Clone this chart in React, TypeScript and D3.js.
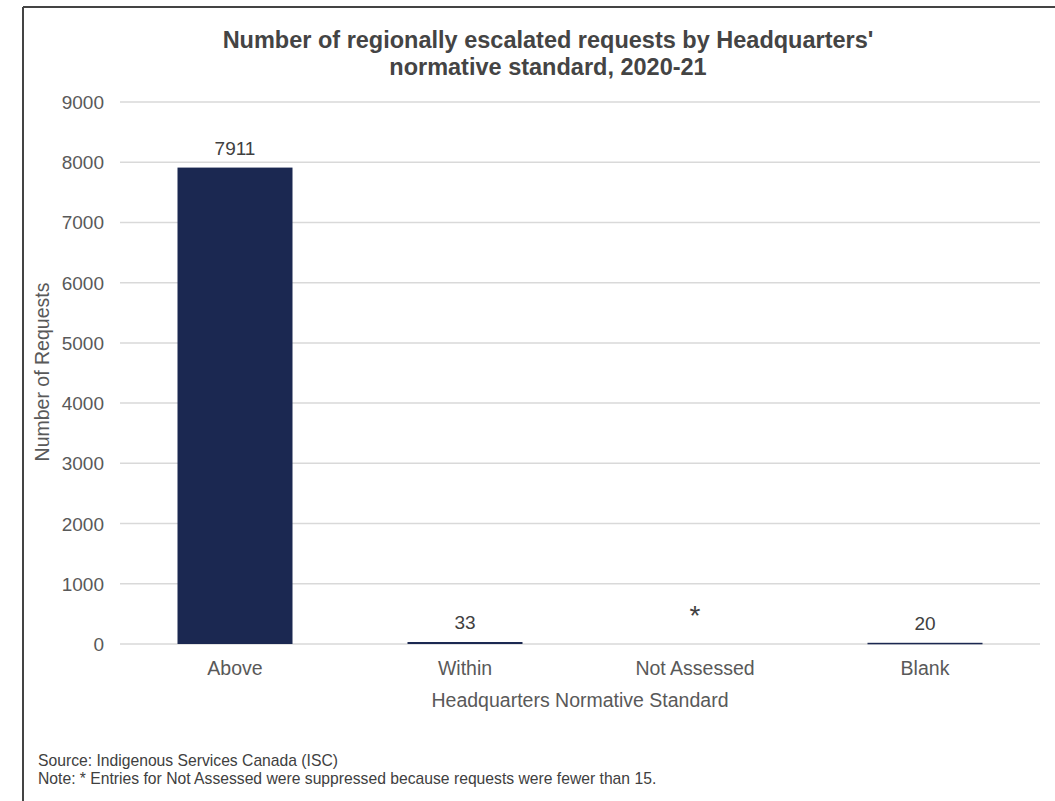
import React from "react";
import * as d3 from "d3";

const categories = ["Above", "Within", "Not Assessed", "Blank"];
const values: (number | null)[] = [7911, 33, null, 20];
const valueLabels = ["7911", "33", "*", "20"];
const yTicks = [0, 1000, 2000, 3000, 4000, 5000, 6000, 7000, 8000, 9000];

const W = 1055;
const H = 801;
const FONT = "'Liberation Sans', Arial, Helvetica, sans-serif";

export default function App() {
  const x = d3.scaleBand<string>().domain(categories).range([120, 1040]).paddingInner(0.5).paddingOuter(0.25);
  const y = d3.scaleLinear().domain([0, 9000]).range([644, 102]);
  return (
    <svg width={W} height={H} style={{ position: "absolute", left: 0, top: 0 }} fontFamily={FONT}>
      <rect x={0} y={0} width={W} height={H} fill="#fff" />
      <line x1={23} y1={7} x2={W} y2={7} stroke="#444" strokeWidth={2} />
      <line x1={23} y1={7} x2={23} y2={H} stroke="#444" strokeWidth={2} />
      <text x={548} y={48} textAnchor="middle" fontSize={23.5} fontWeight="bold" fill="#444">
        Number of regionally escalated requests by Headquarters'
      </text>
      <text x={548} y={75} textAnchor="middle" fontSize={23.5} fontWeight="bold" fill="#444">
        normative standard, 2020-21
      </text>
      {yTicks.map((t) => (
        <g key={t}>
          <line x1={120} x2={1040} y1={y(t)} y2={y(t)} stroke="#d9d9d9" strokeWidth={1.5} />
          <text x={104} y={y(t) + 7} textAnchor="end" fontSize={19} fill="#595959">
            {t}
          </text>
        </g>
      ))}
      {categories.map((c, i) => {
        const v = values[i];
        const bx = x(c)!;
        const cx = bx + x.bandwidth() / 2;
        return (
          <g key={c}>
            {v != null && (
              <rect x={bx} y={y(v)} width={x.bandwidth()} height={Math.max(y(0) - y(v), 1.5)} fill="#1b2851" />
            )}
            <text
              x={cx}
              y={v == null ? 625 : y(v) - 13}
              textAnchor="middle"
              fontSize={v == null ? 28 : 19}
              fill="#404040"
            >
              {valueLabels[i]}
            </text>
            <text x={cx} y={675} textAnchor="middle" fontSize={19.5} fill="#595959">
              {c}
            </text>
          </g>
        );
      })}
      <text
        transform={`translate(49,${372}) rotate(-90)`}
        textAnchor="middle"
        fontSize={19.5}
        fill="#595959"
      >
        Number of Requests
      </text>
      <text x={580} y={707} textAnchor="middle" fontSize={19.5} fill="#595959">
        Headquarters Normative Standard
      </text>
      <text x={38} y={766} fontSize={15.7} fill="#404040">
        Source: Indigenous Services Canada (ISC)
      </text>
      <text x={38} y={784} fontSize={15.7} fill="#404040">
        Note: * Entries for Not Assessed were suppressed because requests were fewer than 15.
      </text>
    </svg>
  );
}
